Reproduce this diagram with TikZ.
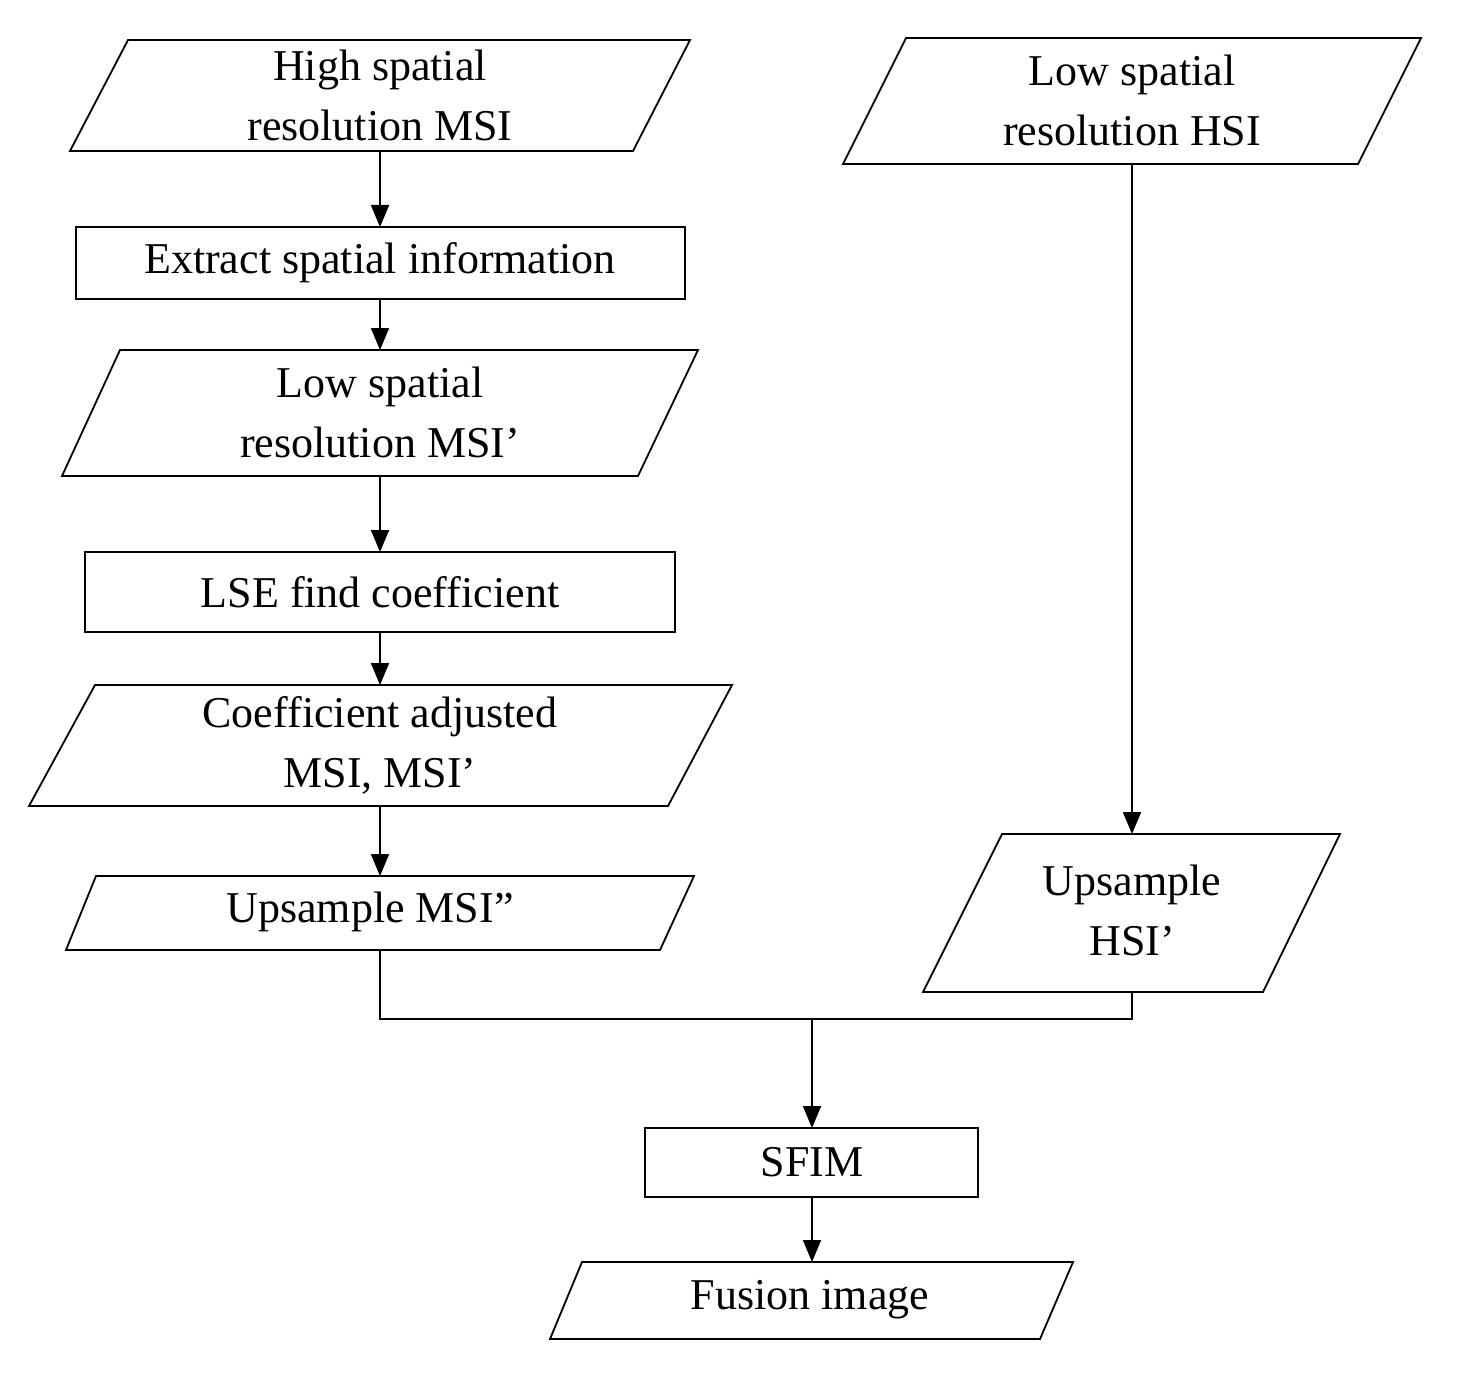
\documentclass[tikz,border=0pt]{standalone}
\usepackage{fontspec}
\setmainfont{Liberation Serif}
\usetikzlibrary{arrows.meta}
\begin{document}
\begin{tikzpicture}[x=0.5pt,y=-0.5pt,
  box/.style={draw,line width=0.9pt},
  txt/.style={font=\fontsize{22}{30}\selectfont,align=center,inner sep=0pt},
  arr/.style={draw,line width=0.9pt,-{Triangle[length=11pt,width=9pt]}},
  ln/.style={draw,line width=0.9pt}]
\useasboundingbox (0,0) rectangle (1460,1380);
% shapes
\draw[box] (128,40)--(690,40)--(633,151)--(70,151)--cycle;
\node[txt] (a) at (380,95) {High spatial\\resolution MSI};
\draw[box] (76,227) rectangle (685,299);
\node[txt] (b) at (380,263) {Extract spatial information};
\draw[box] (120,350)--(698,350)--(638,476)--(62,476)--cycle;
\node[txt] (c) at (380,412) {Low spatial\\resolution MSI’};
\draw[box] (85,552) rectangle (675,632);
\node[txt] (d) at (380,592) {LSE find coefficient};
\draw[box] (95,685)--(732,685)--(668,806)--(29,806)--cycle;
\node[txt] (e) at (380,745) {Coefficient adjusted\\MSI, MSI’};
\draw[box] (96,876)--(694,876)--(660,950)--(66,950)--cycle;
\node[txt] (f) at (370,912) {Upsample MSI”};
\draw[box] (906,38)--(1421,38)--(1358,164)--(843,164)--cycle;
\node[txt] (g) at (1132,100) {Low spatial\\resolution HSI};
\draw[box] (1002,834)--(1340,834)--(1263,992)--(923,992)--cycle;
\node[txt] (h) at (1132,910) {Upsample\\HSI’};
\draw[box] (645,1128) rectangle (978,1197);
\node[txt] (i) at (812,1162) {SFIM};
\draw[box] (582,1262)--(1073,1262)--(1040,1339)--(550,1339)--cycle;
\node[txt] (j) at (810,1300) {Fusion image};
% anchor coordinates
\coordinate (aB) at (380,151); \coordinate (bT) at (380,227);
\coordinate (bB) at (380,299); \coordinate (cT) at (380,350);
\coordinate (cB) at (380,476); \coordinate (dT) at (380,552);
\coordinate (dB) at (380,632); \coordinate (eT) at (380,685);
\coordinate (eB) at (380,806); \coordinate (fT) at (380,876);
\coordinate (fB) at (380,950); \coordinate (gB) at (1132,164);
\coordinate (hT) at (1132,834); \coordinate (hB) at (1132,992);
\coordinate (m) at (812,1019); \coordinate (iT) at (812,1128);
\coordinate (iB) at (812,1197); \coordinate (jT) at (812,1262);
\draw[arr] (aB)--(bT);
\draw[arr] (bB)--(cT);
\draw[arr] (cB)--(dT);
\draw[arr] (dB)--(eT);
\draw[arr] (eB)--(fT);
\draw[arr] (gB)--(hT);
\draw[ln] (fB)|-(m);
\draw[ln] (hB)|-(m);
\draw[arr] (m)--(iT);
\draw[arr] (iB)--(jT);
\end{tikzpicture}
\end{document}
